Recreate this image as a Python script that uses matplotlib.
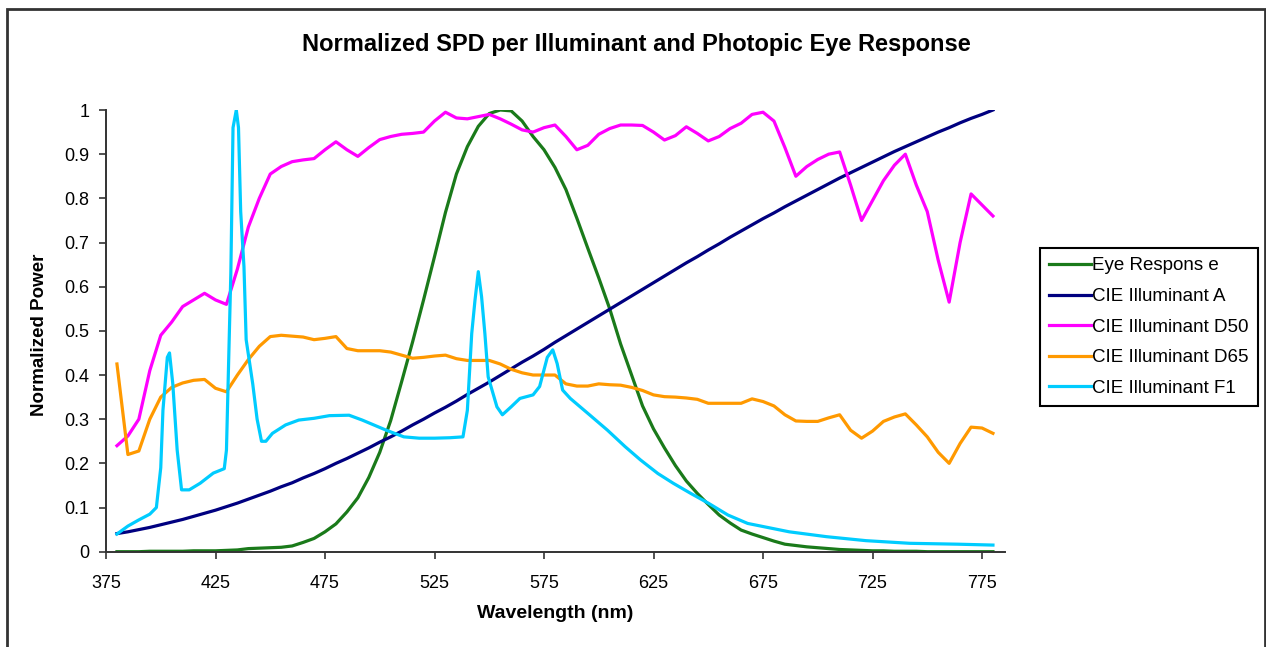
import matplotlib
matplotlib.use("Agg")
import matplotlib.pyplot as plt
from matplotlib.patches import Rectangle

plt.rcParams['font.family'] = ['Liberation Sans', 'DejaVu Sans']

# wavelength grid (nm) shared by the smooth series
wavelength = list(range(380, 781, 5))

eye_response = [
    0.000, 0.000, 0.000, 0.001, 0.001, 0.001, 0.001, 0.002, 0.002, 0.002,
    0.003, 0.004, 0.007, 0.008, 0.009, 0.010, 0.013, 0.021, 0.030, 0.045,
    0.063, 0.090, 0.122, 0.168, 0.225, 0.297, 0.385, 0.475, 0.570, 0.668,
    0.768, 0.855, 0.917, 0.963, 0.992, 1.000, 0.998, 0.975, 0.940, 0.910,
    0.870, 0.820, 0.755, 0.687, 0.620, 0.550, 0.470, 0.400, 0.330, 0.278,
    0.235, 0.195, 0.160, 0.132, 0.107, 0.083, 0.065, 0.049, 0.040, 0.032,
    0.024, 0.017, 0.014, 0.011, 0.009, 0.007, 0.005, 0.004, 0.003, 0.002,
    0.002, 0.001, 0.001, 0.001, 0.000, 0.000, 0.000, 0.000, 0.000, 0.000,
    0.000,
]

illum_a = [
    0.041, 0.045, 0.050, 0.055, 0.061, 0.067, 0.073, 0.080, 0.087, 0.094,
    0.102, 0.110, 0.119, 0.128, 0.137, 0.147, 0.156, 0.167, 0.177, 0.188,
    0.200, 0.211, 0.223, 0.235, 0.248, 0.260, 0.273, 0.287, 0.300, 0.314,
    0.327, 0.341, 0.356, 0.370, 0.384, 0.399, 0.414, 0.429, 0.443, 0.458,
    0.474, 0.489, 0.504, 0.519, 0.534, 0.549, 0.564, 0.579, 0.594, 0.609,
    0.624, 0.639, 0.654, 0.668, 0.683, 0.697, 0.712, 0.726, 0.740, 0.754,
    0.767, 0.781, 0.794, 0.807, 0.820, 0.833, 0.846, 0.858, 0.870, 0.882,
    0.894, 0.906, 0.917, 0.928, 0.939, 0.950, 0.960, 0.971, 0.981, 0.990,
    1.000,
]

illum_d50 = [
    0.240, 0.262, 0.300, 0.410, 0.490, 0.520, 0.555, 0.570, 0.585, 0.570,
    0.560, 0.640, 0.735, 0.800, 0.855, 0.872, 0.883, 0.887, 0.890, 0.910,
    0.928, 0.910, 0.895, 0.915, 0.933, 0.940, 0.945, 0.947, 0.950, 0.975,
    0.995, 0.982, 0.980, 0.985, 0.990, 0.980, 0.968, 0.955, 0.950, 0.960,
    0.966, 0.940, 0.910, 0.920, 0.945, 0.958, 0.966, 0.966, 0.965, 0.950,
    0.932, 0.942, 0.962, 0.947, 0.930, 0.940, 0.958, 0.970, 0.990, 0.995,
    0.975, 0.915, 0.850, 0.872, 0.888, 0.900, 0.905, 0.830, 0.750, 0.795,
    0.840, 0.875, 0.900, 0.830, 0.770, 0.660, 0.565, 0.700, 0.810, 0.785,
    0.760,
]

illum_d65 = [
    0.425, 0.220, 0.228, 0.300, 0.350, 0.372, 0.382, 0.388, 0.390, 0.370,
    0.362, 0.400, 0.435, 0.465, 0.487, 0.490, 0.488, 0.486, 0.480, 0.483,
    0.487, 0.460, 0.455, 0.455, 0.455, 0.452, 0.445, 0.438, 0.440, 0.443,
    0.445, 0.437, 0.433, 0.433, 0.433, 0.425, 0.413, 0.405, 0.400, 0.400,
    0.400, 0.380, 0.375, 0.375, 0.380, 0.378, 0.377, 0.372, 0.365, 0.355,
    0.351, 0.350, 0.348, 0.345, 0.336, 0.336, 0.336, 0.336, 0.346, 0.340,
    0.330, 0.310, 0.296, 0.295, 0.295, 0.303, 0.310, 0.275, 0.257, 0.273,
    0.295, 0.305, 0.312, 0.287, 0.260, 0.225, 0.200, 0.245, 0.282, 0.280,
    0.268,
]

# F1 has narrow mercury lines, so it gets its own finer sampling
wavelength_f1 = [
    380, 385, 390, 395, 398, 400, 401, 403, 404, 405.5, 407.5, 409.5, 413,
    418, 424, 429, 430, 431, 432, 433, 434.5, 435.5, 436.5, 438, 439, 442,
    444, 446, 448, 451, 457, 463, 470, 477, 486, 492, 503, 511, 518, 525,
    532, 538, 540, 542, 543.5, 545, 546.5, 548, 549.5, 553.5, 556, 560, 564,
    570, 573, 576.5, 579, 581, 583.5, 587, 596, 604, 612, 619, 627, 634, 642,
    650, 659, 668, 679, 687, 704, 722, 742, 764, 780,
]
illum_f1 = [
    0.040, 0.058, 0.072, 0.085, 0.100, 0.190, 0.320, 0.440, 0.450, 0.380,
    0.230, 0.140, 0.140, 0.155, 0.178, 0.188, 0.230, 0.430, 0.630, 0.960,
    1.000, 0.960, 0.770, 0.645, 0.480, 0.380, 0.300, 0.250, 0.250, 0.268,
    0.287, 0.298, 0.302, 0.308, 0.309, 0.298, 0.275, 0.260, 0.257, 0.257,
    0.258, 0.260, 0.320, 0.494, 0.570, 0.634, 0.577, 0.494, 0.396, 0.328,
    0.310, 0.328, 0.347, 0.355, 0.374, 0.440, 0.457, 0.426, 0.366, 0.347,
    0.309, 0.275, 0.238, 0.208, 0.177, 0.155, 0.132, 0.110, 0.083, 0.064,
    0.053, 0.045, 0.034, 0.025, 0.019, 0.017, 0.015,
]

x_ticks = [375, 425, 475, 525, 575, 625, 675, 725, 775]
y_ticks = [0, 0.1, 0.2, 0.3, 0.4, 0.5, 0.6, 0.7, 0.8, 0.9, 1]
y_tick_labels = ["0", "0.1", "0.2", "0.3", "0.4", "0.5", "0.6", "0.7", "0.8", "0.9", "1"]

W, H = 1266, 647
fig = plt.figure(figsize=(W / 100, H / 100), dpi=100)
ax = fig.add_axes([106 / W, 1 - 551.7 / H, (1005 - 106) / W, 441.7 / H])

lw = 2.3
ax.plot(wavelength, eye_response, color="#1a7a1a", lw=lw, label="Eye Respons e")
ax.plot(wavelength, illum_a, color="#000080", lw=lw, label="CIE Illuminant A")
ax.plot(wavelength, illum_d50, color="#ff00ff", lw=lw, label="CIE Illuminant D50")
ax.plot(wavelength, illum_d65, color="#ff9900", lw=lw, label="CIE Illuminant D65")
ax.plot(wavelength_f1, illum_f1, color="#00ccff", lw=lw, label="CIE Illuminant F1")

ax.set_xlim(375, 785.5)
ax.set_ylim(0, 1)
ax.set_xticks(x_ticks)
ax.set_yticks(y_ticks)
ax.set_yticklabels(y_tick_labels)
ax.tick_params(direction="out", length=5, width=1.2, labelsize=13, color="#333333")
ax.tick_params(axis="y", pad=7)
ax.tick_params(axis="x", pad=12)
for side in ["top", "right"]:
    ax.spines[side].set_visible(False)
for side in ["left", "bottom"]:
    ax.spines[side].set_linewidth(1.4)
    ax.spines[side].set_color("#333333")

fig.text(636 / W, 1 - 45 / H, "Normalized SPD per Illuminant and Photopic Eye Response",
         ha="center", va="center", fontsize=17, fontweight="bold")
fig.text(40 / W, 1 - 335 / H, "Normalized Power", rotation=90,
         ha="center", va="center", fontsize=13.5, fontweight="bold")
fig.text(555 / W, 1 - 614 / H, "Wavelength (nm)",
         ha="center", va="center", fontsize=14, fontweight="bold")

leg = ax.legend(loc="upper left", bbox_to_anchor=(1040 / W, 1 - 248 / H),
                bbox_transform=fig.transFigure, fontsize=13.5, fancybox=False,
                edgecolor="black", framealpha=1, handlelength=2.2,
                handletextpad=0.1, labelspacing=0.72, borderpad=0.5,
                borderaxespad=0)
leg.get_frame().set_linewidth(1.5)

# chart area border
fig.patches.append(Rectangle((7 / W, -0.02), (1265 - 7) / W, (H - 9) / H + 0.02,
                             transform=fig.transFigure, fill=False,
                             lw=2, ec="#333333"))

fig.savefig("out.png", dpi=100)
